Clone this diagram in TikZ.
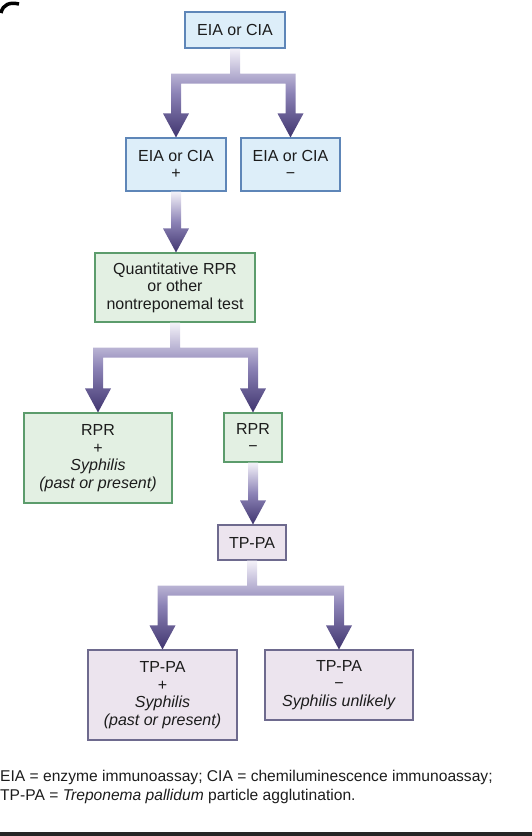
\documentclass[tikz,border=0pt]{standalone}
\usepackage{fontspec}
\setmainfont{Liberation Sans}
\usetikzlibrary{calc}
\usepackage{xcolor}

\definecolor{blueFill}{HTML}{DDEEF9}
\definecolor{blueLine}{HTML}{5E86B8}
\definecolor{greenFill}{HTML}{E3F0E3}
\definecolor{greenLine}{HTML}{5C9C6C}
\definecolor{lilacFill}{HTML}{ECE4EE}
\definecolor{lilacLine}{HTML}{6E6A8E}
\definecolor{arrowLight}{HTML}{F4F2F9}
\definecolor{arrowMid}{HTML}{8C83B6}
\definecolor{arrowDark}{HTML}{40356F}
\definecolor{inkText}{HTML}{1C1C1C}

% straight fat arrow: from the bottom of #1 down to the top of #2
\newcommand{\fatarrow}[2]{%
  \shade[arrowbody] let \p1=(#1.south), \p2=(#2.north) in
    (\x1-5pt,\y1) -- (\x1+5pt,\y1) -- (\x1+5pt,\y2+24pt) -- (\x1+13pt,\y2+24pt)
    -- (\x1,\y2) -- (\x1-13pt,\y2+24pt) -- (\x1-5pt,\y2+24pt) -- cycle;}

% forked fat arrow: from the bottom of #1 to the tops of #2 (left) and #3 (right)
\newcommand{\forkarrow}[3]{%
  \shade[arrowbody] let \p1=(#1.south), \p2=(#2.north), \p3=(#3.north) in
    (\x1-5pt,\y1) -- (\x1+5pt,\y1) -- (\x1+5pt,\y1-25pt) -- (\x3+5pt,\y1-25pt)
    -- (\x3+5pt,\y3+24pt) -- (\x3+13pt,\y3+24pt) -- (\x3,\y3) -- (\x3-13pt,\y3+24pt)
    -- (\x3-5pt,\y3+24pt) -- (\x3-5pt,\y1-35pt) -- (\x2+5pt,\y1-35pt)
    -- (\x2+5pt,\y2+24pt) -- (\x2+13pt,\y2+24pt) -- (\x2,\y2) -- (\x2-13pt,\y2+24pt)
    -- (\x2-5pt,\y2+24pt) -- (\x2-5pt,\y1-25pt) -- (\x1-5pt,\y1-25pt) -- cycle;}

\begin{document}
\begin{tikzpicture}[x=1pt, y=-1pt]
        % ================= styles =================
        \tikzset{
            % test box: thin coloured frame, centred text
            testbox/.style={draw, line width=1.1pt, align=center, inner sep=0pt,
                text=inkText, font=\fontsize{16}{17.5}\selectfont},
            % the three box families
            eiabox/.style={testbox, fill=blueFill, draw=blueLine},
            rprbox/.style={testbox, fill=greenFill, draw=greenLine},
            tpbox/.style={testbox, fill=lilacFill, draw=lilacLine},
            % fat arrow shading: pale at the stem, dark at the tip
            arrowbody/.style={top color=arrowLight, bottom color=arrowDark, middle color=arrowMid}
        }

        \useasboundingbox (0,0) rectangle (532,836);

        % ================= boxes =================

        % screening test
        \node[eiabox, minimum width=100, minimum height=36] (eia) at (235,30) {EIA or CIA};

        % screening result
        \node[eiabox, minimum width=100, minimum height=53] (eiapos) at (176,164.5) {EIA or CIA\\+};
        \node[eiabox, minimum width=99, minimum height=53] (eianeg) at (290.5,164.5) {EIA or CIA\\−};

        % nontreponemal test
        \node[rprbox, minimum width=160, minimum height=69] (rpr) at (175,287.5)
            {Quantitative RPR\\or other\\nontreponemal test};

        % RPR result
        \node[rprbox, minimum width=148, minimum height=90] (rprpos) at (98,458)
            {RPR\\+\\\textit{Syphilis}\\\textit{(past or present)}};
        \node[rprbox, minimum width=58, minimum height=49] (rprneg) at (253,437.5) {RPR\\−};

        % treponemal test
        \node[tpbox, minimum width=68, minimum height=35] (tppa) at (252,542.5) {TP-PA};

        % TP-PA result
        \node[tpbox, minimum width=149, minimum height=90] (tppos) at (162.5,695)
            {TP-PA\\+\\\textit{Syphilis}\\\textit{(past or present)}};
        \node[tpbox, minimum width=148, minimum height=70] (tpneg) at (339,685)
            {TP-PA\\−\\\textit{Syphilis unlikely}};

        % ================= arrows =================
        \forkarrow{eia}{eiapos}{eianeg}
        \fatarrow{eiapos}{rpr}
        \forkarrow{rpr}{rprpos}{rprneg}
        \fatarrow{rprneg}{tppa}
        \forkarrow{tppa}{tppos}{tpneg}

        % ================= footnote =================
        \node[anchor=west, align=left, inner sep=0pt, text=inkText,
            font=\fontsize{15.6}{19}\selectfont] (note) at (0,787)
            {EIA = enzyme immunoassay; CIA = chemiluminescence immunoassay;\\
             TP-PA = \textit{Treponema pallidum} particle agglutination.};

        % page edge marks
        \draw[line width=3.5pt] (1,13) .. controls (3,4) and (10,2) .. (19,4);
        \fill[black!85] (0,832) rectangle (532,836);

    \end{tikzpicture}
\end{document}
